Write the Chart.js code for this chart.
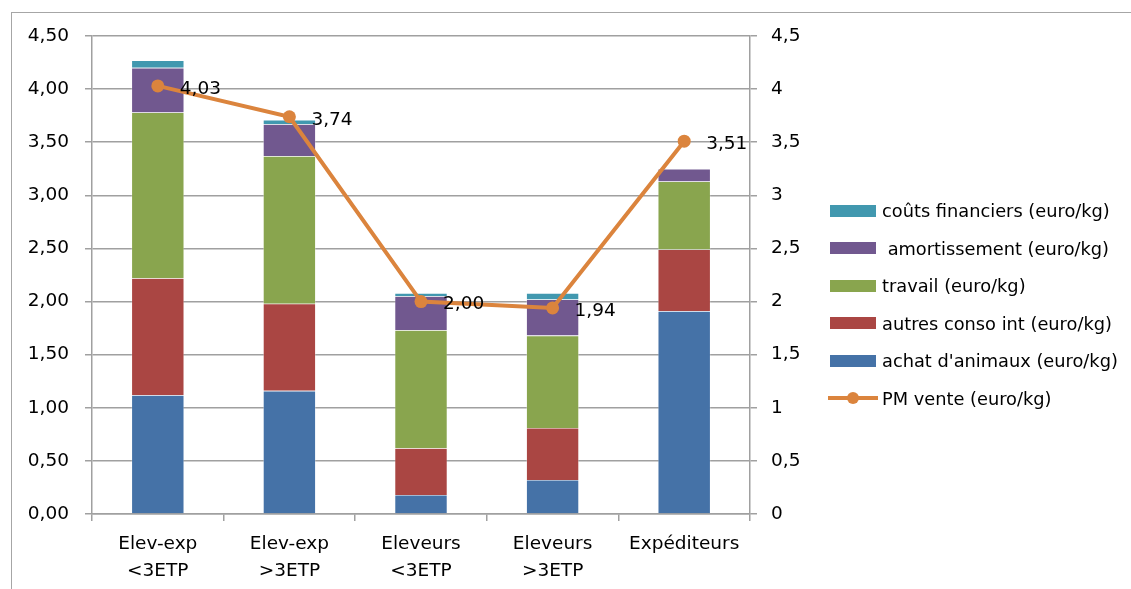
<!DOCTYPE html>
<html>
<head>
<meta charset="utf-8">
<script src="https://cdn.jsdelivr.net/npm/chart.js@4"></script>
<style>
  html, body { margin: 0; padding: 0; background: #fff; overflow: hidden; }
  #wrap { position: relative; width: 1131px; height: 589px; }
  #frame { position: absolute; left: 11px; top: 12px; width: 1200px; height: 700px; border: 1.5px solid #a6a6a6; box-sizing: border-box; }
  canvas { position: absolute; left: 0; top: 0; }
  #legend { position: absolute; left: 828px; top: 192px; font-family: "DejaVu Sans", sans-serif; font-size: 17.8px; color: #000; }
  .item { height: 37.5px; display: flex; align-items: center; white-space: pre; }
  .box { width: 46px; height: 12px; margin: 0 6px 0 2px; }
  .ln { position: relative; width: 50px; height: 12px; margin-right: 4px; }
  .ln:before { content: ""; position: absolute; left: 0; right: 0; top: 4px; height: 4px; background: #db843d; }
  .ln:after { content: ""; position: absolute; left: 19px; top: 0; width: 12px; height: 12px; border-radius: 50%; background: #db843d; }
</style>
</head>
<body>
<div id="wrap">
  <div id="frame"></div>
  <canvas id="chart" width="1131" height="589"></canvas>
  <div id="legend"></div>
</div>
<script>
  // Catégories
  const categories = [["Elev-exp", "<3ETP"], ["Elev-exp", ">3ETP"], ["Eleveurs", "<3ETP"], ["Eleveurs", ">3ETP"], "Expéditeurs"];

  // Coûts (euro/kg), empilés du bas vers le haut
  const achatAnimaux = [1.12, 1.16, 0.18, 0.32, 1.91];
  const autresConso = [1.10, 0.82, 0.44, 0.49, 0.58];
  const travail = [1.56, 1.39, 1.11, 0.87, 0.64];
  const amortissement = [0.42, 0.30, 0.32, 0.34, 0.12];
  const coutsFinanciers = [0.07, 0.04, 0.03, 0.06, 0.00];

  // Prix moyen de vente
  const pmVente = [4.03, 3.74, 2.00, 1.94, 3.51];

  // Graduations
  const yMin = 0, yMax = 4.5, yStep = 0.5;

  const grey = "#a0a0a0";
  const font = { family: "'DejaVu Sans', sans-serif", size: 18.5 };

  const barSeries = [
    { label: "achat d'animaux (euro/kg)", data: achatAnimaux, color: "#4572a7" },
    { label: "autres conso int (euro/kg)", data: autresConso, color: "#aa4643" },
    { label: "travail (euro/kg)", data: travail, color: "#89a54e" },
    { label: " amortissement (euro/kg)", data: amortissement, color: "#71588f" },
    { label: "coûts financiers (euro/kg)", data: coutsFinanciers, color: "#4198af" }
  ];

  const datasets = barSeries.map(function(s) {
    return {
      type: "bar",
      label: s.label,
      data: s.data,
      backgroundColor: s.color,
      borderColor: "rgba(255,255,255,0.6)",
      borderWidth: 0.6,
      yAxisID: "y",
      order: 1
    };
  });
  datasets.push({
    type: "line",
    label: "PM vente (euro/kg)",
    data: pmVente,
    borderColor: "#db843d",
    backgroundColor: "#db843d",
    borderWidth: 4,
    pointRadius: 6.5,
    pointBackgroundColor: "#db843d",
    pointBorderWidth: 0,
    yAxisID: "y1",
    order: 0
  });

  // Étiquettes de la courbe
  const lineLabels = {
    id: "lineLabels",
    afterDatasetsDraw(chart) {
      const ctx = chart.ctx;
      const meta = chart.getDatasetMeta(datasets.length - 1);
      ctx.save();
      ctx.font = font.size + "px " + font.family;
      ctx.fillStyle = "#000";
      ctx.textBaseline = "middle";
      ctx.textAlign = "left";
      meta.data.forEach(function(pt, i) {
        ctx.fillText(pmVente[i].toFixed(2).replace(".", ","), pt.x + 22, pt.y + 3);
      });
      ctx.restore();
    }
  };

  new Chart(document.getElementById("chart"), {
    data: { labels: categories, datasets: datasets },
    plugins: [lineLabels],
    options: {
      responsive: false,
      animation: false,
      layout: { padding: { left: 0, top: 36, right: 321, bottom: 0 } },
      plugins: { legend: { display: false }, tooltip: { enabled: false } },
      datasets: { bar: { barPercentage: 0.4, categoryPercentage: 1 } },
      scales: {
        x: {
          stacked: true,
          offset: true,
          grid: { offset: true, drawOnChartArea: false, drawTicks: true, tickLength: 7, color: grey, lineWidth: 1.5 },
          border: { color: grey, width: 1.5 },
          ticks: { color: "#000", font: Object.assign({}, font, { lineHeight: 1.45 }), padding: 10, maxRotation: 0, autoSkip: false },
          afterFit(scale) { scale.height = 75; }
        },
        y: {
          stacked: true,
          position: "left",
          min: yMin, max: yMax,
          ticks: {
            stepSize: yStep, color: "#000", font: font, padding: 16,
            callback: function(v) { return v.toFixed(2).replace(".", ","); }
          },
          grid: { color: grey, lineWidth: 1.5, tickLength: 7 },
          border: { color: grey, width: 1.5 },
          afterFit(scale) { scale.width = 92; }
        },
        y1: {
          position: "right",
          min: yMin, max: yMax,
          ticks: {
            stepSize: yStep, color: "#000", font: font, padding: 14,
            callback: function(v) { return String(v).replace(".", ","); }
          },
          grid: { drawOnChartArea: false, color: grey, lineWidth: 1.5, tickLength: 7 },
          border: { color: grey, width: 1.5 },
          afterFit(scale) { scale.width = 60; }
        }
      }
    }
  });

  // Légende
  const legend = document.getElementById("legend");
  barSeries.slice().reverse().forEach(function(s) {
    const row = document.createElement("div");
    row.className = "item";
    row.innerHTML = '<span class="box" style="background:' + s.color + '"></span><span></span>';
    row.lastChild.textContent = s.label;
    legend.appendChild(row);
  });
  const lineRow = document.createElement("div");
  lineRow.className = "item";
  lineRow.innerHTML = '<span class="ln"></span><span>PM vente (euro/kg)</span>';
  legend.appendChild(lineRow);
</script>
</body>
</html>
